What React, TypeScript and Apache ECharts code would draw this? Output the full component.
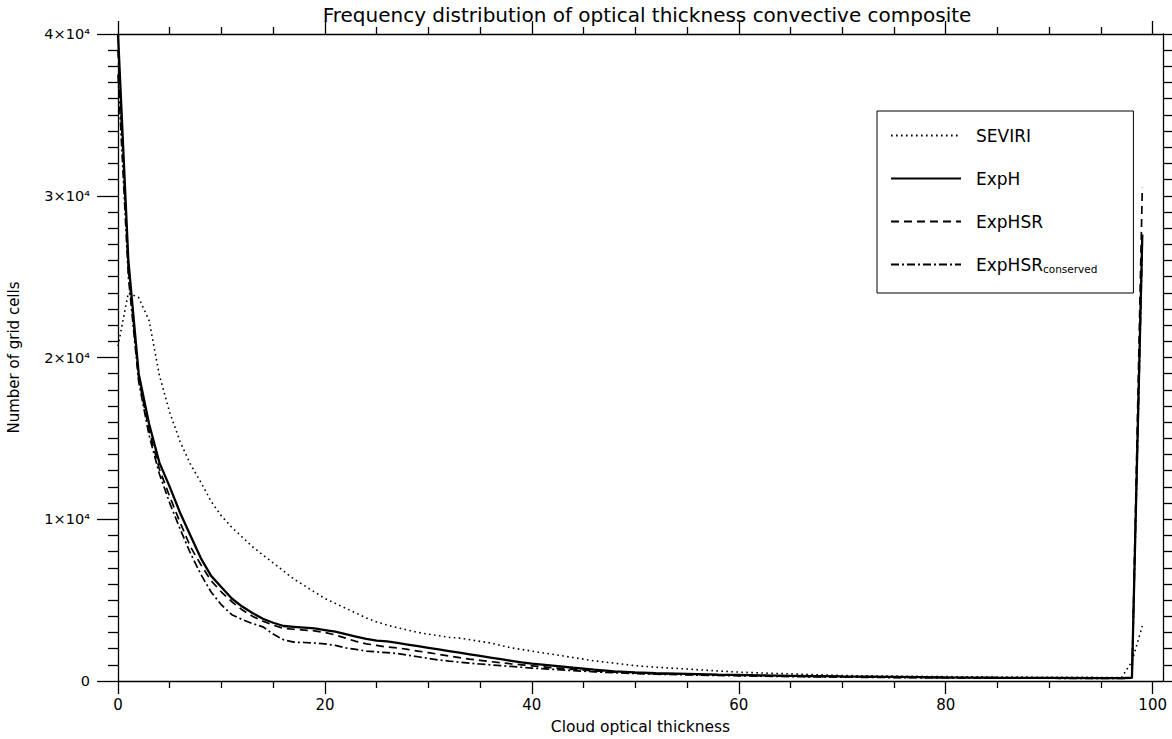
import React, { useEffect, useRef } from "react";
import * as echarts from "echarts";

// Cloud optical thickness bins
const tau = [
  0, 1, 2, 3, 4, 5, 6, 7, 8, 9, 10, 11, 12, 13, 14, 15, 16, 17, 18, 19, 20,
  21, 22, 23, 24, 25, 26, 27, 28, 29, 30, 31, 32, 33, 34, 35, 36, 37, 38, 39, 40,
  42, 44, 46, 48, 50, 52, 55, 58, 60, 62, 65, 70, 75, 80, 85, 90, 95, 97, 98, 99,
];

const seviri = [
  20700, 24000, 23700, 22300, 18900, 16600, 14800, 13400, 12300, 11100, 10200,
  9500, 8900, 8300, 7800, 7300, 6800, 6300, 5900, 5500, 5100,
  4800, 4500, 4200, 3900, 3650, 3450, 3300, 3150, 3000, 2900,
  2800, 2700, 2650, 2550, 2450, 2350, 2200, 2050, 1950, 1850,
  1650, 1450, 1250, 1100, 950, 850, 740, 620, 550, 500, 440, 340, 300, 270, 250, 230, 220, 220, 1200, 3400,
];

const expH = [
  40000, 26000, 19000, 15900, 13500, 12000, 10400, 9000, 7600, 6500, 5800,
  5100, 4600, 4200, 3850, 3600, 3400, 3350, 3300, 3250, 3150,
  3050, 2900, 2750, 2600, 2500, 2450, 2350, 2250, 2150, 2050,
  1950, 1850, 1750, 1650, 1550, 1450, 1350, 1250, 1150, 1080,
  950, 820, 700, 600, 530, 480, 440, 400, 380, 350, 320, 280, 250, 220, 200, 190, 180, 180, 200, 27600,
];

const expHSR = [
  39000, 25500, 18700, 15500, 13100, 11400, 9800, 8300, 7200, 6200, 5500,
  4900, 4400, 4000, 3700, 3450, 3250, 3200, 3150, 3100, 3000,
  2850, 2650, 2450, 2300, 2200, 2100, 2050, 1950, 1850, 1750,
  1650, 1550, 1450, 1350, 1280, 1200, 1130, 1060, 1000, 940,
  820, 720, 630, 550, 490, 450, 410, 370, 350, 330, 300, 260, 230, 210, 190, 180, 170, 170, 180, 30500,
];

const expHSRconserved = [
  37500, 25000, 18500, 15200, 12800, 11000, 9400, 7900, 6600, 5500, 4700,
  4100, 3800, 3550, 3350, 2900, 2550, 2400, 2380, 2350, 2300,
  2200, 2050, 1950, 1850, 1800, 1750, 1700, 1600, 1500, 1400,
  1300, 1230, 1170, 1100, 1050, 1000, 950, 900, 850, 800,
  720, 640, 570, 510, 460, 420, 380, 340, 320, 300, 270, 240, 210, 190, 180, 170, 160, 160, 180, 27000,
];

const seriesNames = ["SEVIRI", "ExpH", "ExpHSR", "ExpHSR conserved"];
const xMajorTicks = [0, 20, 40, 60, 80, 100];

const FONT = "DejaVu Sans";

export default function App() {
  const ref = useRef<HTMLDivElement>(null);

  useEffect(() => {
    const chart = echarts.init(ref.current!, null, { renderer: "svg" });
    const pair = (ys: number[]) => tau.map((t, i) => [t, ys[i]]);

    const xAxisBase = (pos: "bottom" | "top", labels: boolean) => ({
      type: "value",
      position: pos,
      min: 0,
      max: 101,
      interval: 20,
      splitLine: { show: false },
      axisLine: { show: true, onZero: false, lineStyle: { color: "#000", width: 1.3 } },
      axisTick: { show: true, customValues: xMajorTicks, length: 13, lineStyle: { color: "#000", width: 1.3 } },
      minorTick: { show: true, splitNumber: 4, length: 7, lineStyle: { color: "#000", width: 1.3 } },
      axisLabel: labels
        ? { show: true, customValues: xMajorTicks, fontFamily: FONT, fontSize: 15, color: "#000", margin: 16 }
        : { show: false },
    });

    const yAxisBase = (pos: "left" | "right", labels: boolean) => ({
      type: "value",
      position: pos,
      min: 0,
      max: 40000,
      interval: 10000,
      splitLine: { show: false },
      axisLine: { show: true, onZero: false, lineStyle: { color: "#000", width: 1.3 } },
      axisTick: { show: true, length: 21, lineStyle: { color: "#000", width: 1.3 } },
      minorTick: { show: true, splitNumber: 10, length: 10, lineStyle: { color: "#000", width: 1.3 } },
      axisLabel: labels
        ? {
            show: true,
            fontFamily: FONT,
            fontSize: 14.5,
            color: "#000",
            margin: 28,
            formatter: (v: number) => (v === 0 ? "0" : `${v / 10000}×10⁴`),
          }
        : { show: false },
    });

    const lineStyles: any[] = [
      { color: "#000", width: 1.6, type: [1.6, 3.4] },
      { color: "#000", width: 2.3, type: "solid" },
      { color: "#000", width: 1.7, type: [8, 5] },
      { color: "#000", width: 1.7, type: [8, 3, 2, 3] },
    ];
    const datasets = [seviri, expH, expHSR, expHSRconserved];

    chart.setOption({
      animation: false,
      backgroundColor: "#fff",
      title: {
        text: "Frequency distribution of optical thickness convective composite",
        left: 642,
        top: 0,
        textAlign: "center",
        textStyle: { fontFamily: FONT, fontSize: 20, fontWeight: "normal", color: "#000" },
      },
      grid: {
        left: 118,
        right: 9,
        top: 34,
        bottom: 58,
        containLabel: false,
        outerBoundsMode: "none",
      },
      xAxis: [
        {
          ...xAxisBase("bottom", true),
          name: "Cloud optical thickness",
          nameLocation: "middle",
          nameGap: 38,
          nameTextStyle: { fontFamily: FONT, fontSize: 15.5, color: "#000" },
        },
        xAxisBase("top", false),
      ],
      yAxis: [
        {
          ...yAxisBase("left", true),
          name: "Number of grid cells",
          nameLocation: "middle",
          nameGap: 97,
          nameRotate: 90,
          nameTextStyle: { fontFamily: FONT, fontSize: 15, color: "#000" },
        },
        yAxisBase("right", false),
      ],
      legend: {
        orient: "vertical",
        left: 877,
        top: 111,
        padding: [16, 36, 19, 13],
        itemWidth: 70,
        itemHeight: 12,
        itemGap: 26,
        borderColor: "#000",
        borderWidth: 1,
        backgroundColor: "#fff",
        itemStyle: { opacity: 0, color: "transparent", borderWidth: 0 },
        data: seriesNames,
        formatter: (n: string) => (n === "ExpHSR conserved" ? "{m|ExpHSR}{s|conserved}" : `{m|${n}}`),
        textStyle: {
          color: "#000",
          fontFamily: FONT,
          fontSize: 17,
          padding: [0, 0, 0, 10],
          rich: {
            m: { fontFamily: FONT, fontSize: 17, color: "#000" },
            s: { fontFamily: FONT, fontSize: 10.5, color: "#000", padding: [8, 0, 0, 0] },
          },
        },
      },
      series: seriesNames.map((name, i) => ({
        name,
        type: "line",
        xAxisIndex: 0,
        yAxisIndex: 0,
        data: pair(datasets[i]),
        symbol: "none",
        showSymbol: false,
        color: "#000",
        lineStyle: lineStyles[i],
        clip: true,
        z: 2 + i,
      })),
    });

    return () => chart.dispose();
  }, []);

  return (
    <div
      ref={ref}
      style={{ position: "fixed", left: 0, top: 0, width: 1172, height: 739, background: "#fff" }}
    />
  );
}
